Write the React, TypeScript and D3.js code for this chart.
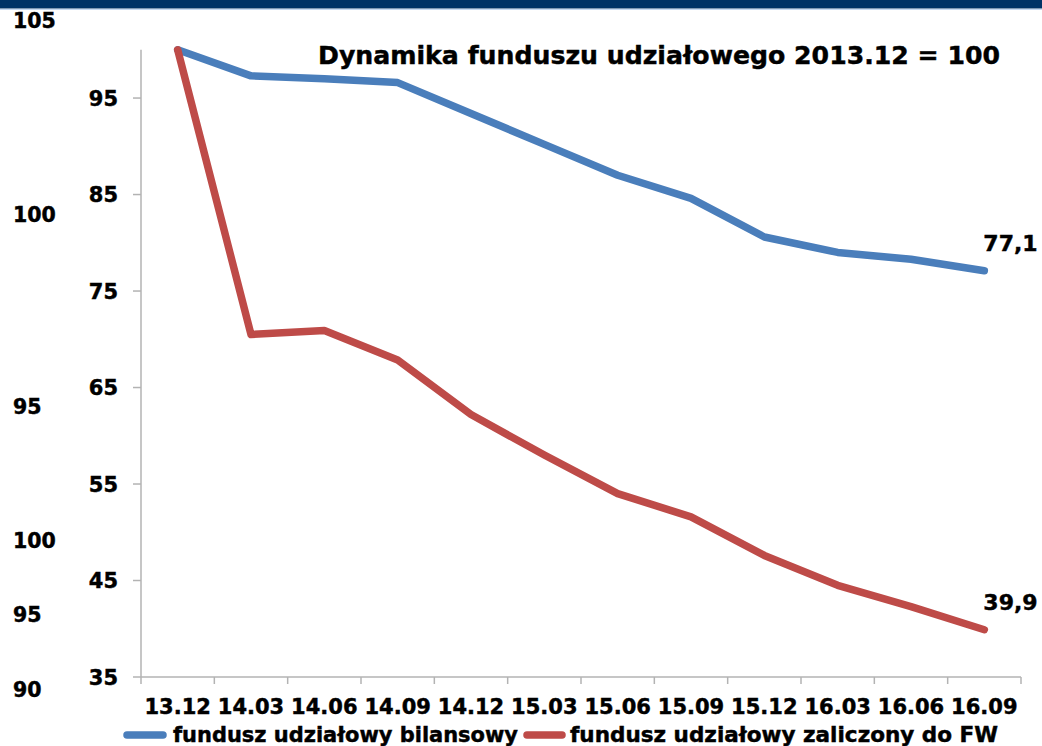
import React from "react";
import * as d3 from "d3";

const categories = ["13.12", "14.03", "14.06", "14.09", "14.12", "15.03", "15.06", "15.09", "15.12", "16.03", "16.06", "16.09"];
const bilansowy = [100, 97.3, 97.0, 96.6, 93.4, 90.2, 87.0, 84.6, 80.6, 79.0, 78.3, 77.1];
const zaliczony = [100, 70.5, 70.9, 67.85, 62.2, 58.0, 54.0, 51.6, 47.6, 44.5, 42.3, 39.9];
const yTicks = [35, 45, 55, 65, 75, 85, 95];
const strayLabels = ["105", "100", "95", "100", "95", "90"];
const strayY = [28, 222, 414, 548, 622, 697];
const seriesNames = ["fundusz udziałowy bilansowy", "fundusz udziałowy zaliczony do FW"];
const lastLabels = ["77,1", "39,9"];
const title = "Dynamika funduszu udziałowego 2013.12 = 100";

const W = 1042;
const H = 746;
const FONT = "'DejaVu Sans', Verdana, sans-serif";
const BLUE = "#4A7EBB";
const RED = "#BE4B48";
const AXIS = "#B3B3B3";
const TXT = { fontWeight: "bold" as const, fill: "#000", stroke: "#000", strokeWidth: 0.45 };

export default function App() {
  const x = d3.scaleBand<string>().domain(categories).range([141, 1021]).padding(0);
  const y = d3.scaleLinear().domain([35, 100]).range([677, 49.8]);
  const cx = (c: string) => (x(c) as number) + x.bandwidth() / 2;
  const line = d3
    .line<number>()
    .x((_, i) => cx(categories[i]))
    .y((v) => y(v));

  const series = [
    { data: bilansowy, color: BLUE },
    { data: zaliczony, color: RED },
  ];
  const boundaries = categories.map((c) => x(c) as number).concat([1021]);

  return (
    <svg width={W} height={H} style={{ position: "absolute", left: 0, top: 0, background: "#fff" }} fontFamily={FONT}>
      <rect x={0} y={0} width={W} height={H} fill="#fff" />
      {/* banner */}
      <rect x={0} y={0} width={W} height={8.5} fill="#003366" />
      <line x1={0} x2={W} y1={9.5} y2={9.5} stroke="#C6D9F1" strokeWidth={1} />

      {/* stray labels */}
      {strayLabels.map((s, i) => (
        <text key={i} x={13} y={strayY[i]} fontSize={20.5} {...TXT}>
          {s}
        </text>
      ))}

      {/* title */}
      <text x={318} y={64} fontSize={25.5} {...TXT} textLength={682} lengthAdjust="spacingAndGlyphs">
        {title}
      </text>

      {/* y axis */}
      <line x1={141} x2={141} y1={y(100)} y2={677} stroke={AXIS} strokeWidth={1.5} />
      {yTicks.map((t) => (
        <g key={t}>
          <line x1={133} x2={141} y1={y(t)} y2={y(t)} stroke={AXIS} strokeWidth={1.5} />
          <text x={118} y={y(t) + 7.5} textAnchor="end" fontSize={21} {...TXT}>
            {t}
          </text>
        </g>
      ))}

      {/* x axis */}
      <line x1={141} x2={1021} y1={677} y2={677} stroke={AXIS} strokeWidth={1.5} />
      {boundaries.map((b, i) => (
        <line key={i} x1={b} x2={b} y1={677} y2={684} stroke={AXIS} strokeWidth={1.5} />
      ))}
      {categories.map((c) => (
        <text key={c} x={cx(c)} y={714} textAnchor="middle" fontSize={21} {...TXT}>
          {c}
        </text>
      ))}

      {/* lines */}
      {series.map((s, i) => (
        <path
          key={i}
          d={line(s.data) as string}
          fill="none"
          stroke={s.color}
          strokeWidth={7.5}
          strokeLinejoin="round"
          strokeLinecap="round"
        />
      ))}

      {/* end labels */}
      {series.map((s, i) => (
        <text
          key={i}
          x={cx(categories[categories.length - 1]) - 1}
          y={y(s.data[s.data.length - 1]) - 20}
          fontSize={22}
          {...TXT}
        >
          {lastLabels[i]}
        </text>
      ))}

      {/* legend */}
      <line x1={127} x2={163} y1={735} y2={735} stroke={BLUE} strokeWidth={7.5} strokeLinecap="round" />
      <text x={173} y={742} fontSize={21} {...TXT} textLength={345} lengthAdjust="spacingAndGlyphs">
        {seriesNames[0]}
      </text>
      <line x1={527} x2={562} y1={735} y2={735} stroke={RED} strokeWidth={7.5} strokeLinecap="round" />
      <text x={570} y={742} fontSize={21} {...TXT} textLength={428} lengthAdjust="spacingAndGlyphs">
        {seriesNames[1]}
      </text>
    </svg>
  );
}
